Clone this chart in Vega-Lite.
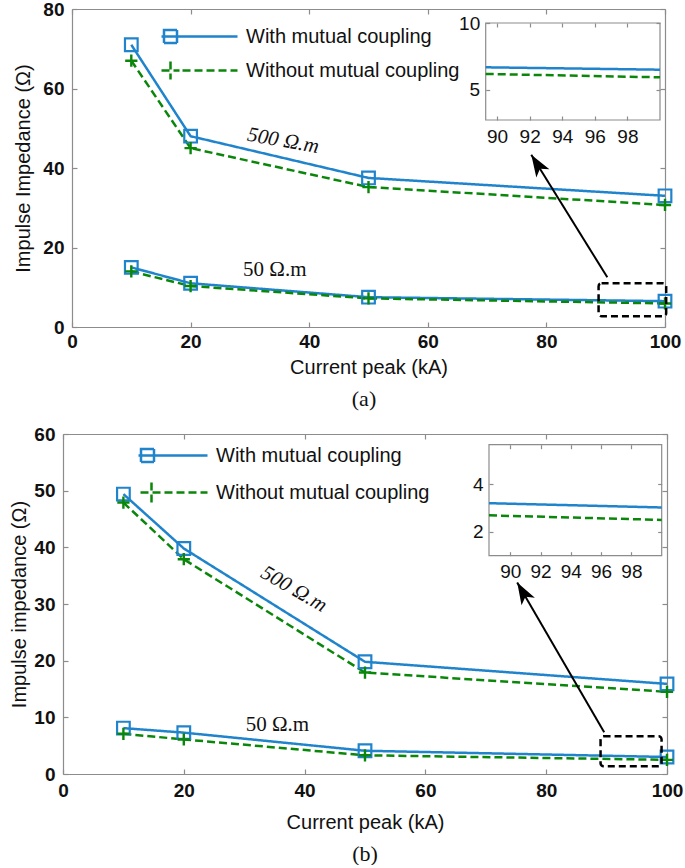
{
  "$schema": "https://vega.github.io/schema/vega-lite/v6.json",
  "background": "white",
  "padding": {"left": 9, "top": 0, "right": 0, "bottom": 0},
  "spacing": 15,
  "config": {
    "view": {"stroke": null},
    "axis": {
      "labelFont": "Liberation Sans", "titleFont": "Liberation Sans",
      "labelFontSize": 19, "titleFontSize": 20, "titleFontWeight": "normal", "labelFontWeight": "bold",
      "labelColor": "#111", "titleColor": "#111",
      "domainColor": "#8c8c8c", "tickColor": "#8c8c8c", "domainWidth": 1.2, "tickWidth": 1.2,
      "grid": false, "labelFlush": false, "labelOverlap": false
    },
    "legend": {"padding": 0, "labelLimit": 400}
  },
  "resolve": {
    "scale": {"color": "independent", "strokeDash": "independent", "shape": "independent"},
    "legend": {"color": "independent"}
  },
  "datasets": {
    "mainA": [
      {"series": "With mutual coupling", "soil": "500", "kA": 10, "Z": 71},
      {"series": "With mutual coupling", "soil": "500", "kA": 20, "Z": 48},
      {"series": "With mutual coupling", "soil": "500", "kA": 50, "Z": 37.5},
      {"series": "With mutual coupling", "soil": "500", "kA": 100, "Z": 33},
      {"series": "Without mutual coupling", "soil": "500", "kA": 10, "Z": 67},
      {"series": "Without mutual coupling", "soil": "500", "kA": 20, "Z": 45},
      {"series": "Without mutual coupling", "soil": "500", "kA": 50, "Z": 35.2},
      {"series": "Without mutual coupling", "soil": "500", "kA": 100, "Z": 30.7},
      {"series": "With mutual coupling", "soil": "50", "kA": 10, "Z": 15},
      {"series": "With mutual coupling", "soil": "50", "kA": 20, "Z": 11},
      {"series": "With mutual coupling", "soil": "50", "kA": 50, "Z": 7.5},
      {"series": "With mutual coupling", "soil": "50", "kA": 100, "Z": 6.5},
      {"series": "Without mutual coupling", "soil": "50", "kA": 10, "Z": 14},
      {"series": "Without mutual coupling", "soil": "50", "kA": 20, "Z": 10.3},
      {"series": "Without mutual coupling", "soil": "50", "kA": 50, "Z": 7.2},
      {"series": "Without mutual coupling", "soil": "50", "kA": 100, "Z": 5.93}
    ],
    "insetA": [
      {"series": "With mutual coupling", "kA": 89.3, "Z": 6.68},
      {"series": "With mutual coupling", "kA": 100, "Z": 6.5},
      {"series": "Without mutual coupling", "kA": 89.3, "Z": 6.18},
      {"series": "Without mutual coupling", "kA": 100, "Z": 5.93}
    ],
    "mainB": [
      {"series": "With mutual coupling", "soil": "500", "kA": 10, "Z": 49.4},
      {"series": "With mutual coupling", "soil": "500", "kA": 20, "Z": 39.8},
      {"series": "With mutual coupling", "soil": "500", "kA": 50, "Z": 19.8},
      {"series": "With mutual coupling", "soil": "500", "kA": 100, "Z": 15.9},
      {"series": "Without mutual coupling", "soil": "500", "kA": 10, "Z": 47.9},
      {"series": "Without mutual coupling", "soil": "500", "kA": 20, "Z": 37.9},
      {"series": "Without mutual coupling", "soil": "500", "kA": 50, "Z": 17.9},
      {"series": "Without mutual coupling", "soil": "500", "kA": 100, "Z": 14.5},
      {"series": "With mutual coupling", "soil": "50", "kA": 10, "Z": 8.1},
      {"series": "With mutual coupling", "soil": "50", "kA": 20, "Z": 7.3},
      {"series": "With mutual coupling", "soil": "50", "kA": 50, "Z": 4.1},
      {"series": "With mutual coupling", "soil": "50", "kA": 100, "Z": 3.0},
      {"series": "Without mutual coupling", "soil": "50", "kA": 10, "Z": 7.1},
      {"series": "Without mutual coupling", "soil": "50", "kA": 20, "Z": 6.1},
      {"series": "Without mutual coupling", "soil": "50", "kA": 50, "Z": 3.3},
      {"series": "Without mutual coupling", "soil": "50", "kA": 100, "Z": 2.5}
    ],
    "insetB": [
      {"series": "With mutual coupling", "kA": 88.6, "Z": 3.2},
      {"series": "With mutual coupling", "kA": 100, "Z": 3.02},
      {"series": "Without mutual coupling", "kA": 88.6, "Z": 2.69},
      {"series": "Without mutual coupling", "kA": 100, "Z": 2.5}
    ]
  },
  "vconcat": [
    {
      "width": 602, "height": 318,
      "title": {"text": "(a)", "orient": "bottom", "font": "Liberation Serif", "fontSize": 22, "fontWeight": "normal", "color": "#111", "offset": 12},
      "resolve": {"scale": {"x": "independent", "y": "independent"}},
      "layer": [
        {
          "data": {"name": "mainA"},
          "mark": {"type": "line", "strokeWidth": 2.5},
          "encoding": {
            "x": {"field": "kA", "type": "quantitative", "scale": {"domain": [0, 100], "range": [9, 602], "nice": false, "zero": false},
                  "axis": {"orient": "bottom", "values": [0, 20, 40, 60, 80, 100], "title": "Current peak (kA)", "tickSize": -5, "labelPadding": 10, "titlePadding": 6}},
            "y": {"field": "Z", "type": "quantitative", "scale": {"domain": [0, 80], "nice": false, "zero": false},
                  "axis": {"orient": "left", "offset": -9, "values": [0, 20, 40, 60, 80], "title": "Impulse Impedance (Ω)", "tickSize": -5, "labelPadding": 13, "titlePadding": 9}},
            "detail": {"field": "soil"},
            "color": {"field": "series", "type": "nominal",
                      "scale": {"domain": ["With mutual coupling", "Without mutual coupling"], "range": ["#1f84cc", "#0a870a"]},
                      "legend": {"orient": "none", "legendX": 153, "legendY": 16, "title": null, "direction": "vertical",
                                 "symbolSize": 400, "symbolStrokeWidth": 2.5, "labelFont": "Liberation Sans", "labelFontSize": 20,
                                 "labelColor": "#111", "labelOffset": 7, "rowPadding": 8,
                                 "encode": {"symbols": {"update": {
                                   "shape": {"signal": "datum.value === 'With mutual coupling' ? 'M-6.6,0H1M-6.35,-0.65H-5.05V0.65H-6.35Z' : 'M-6.6,0H-4.8M-5.7,-0.9V0.9M-4.5,0H-3.7M-3.3,0H-2.5M-2.1,0H-1.3M-0.9,0H-0.1M0.3,0H1'"},
                                   "fill": {"value": "transparent"},
                                   "strokeWidth": {"value": 2.5},
                                   "strokeDash": {"value": [1, 0]},
                                   "opacity": {"value": 1}}}}}},
            "strokeDash": {"field": "series", "type": "nominal",
                           "scale": {"domain": ["With mutual coupling", "Without mutual coupling"], "range": [[1, 0], [8, 4]]}, "legend": null}
          }
        },
        {
          "data": {"name": "mainA"},
          "transform": [{"filter": "datum.series === 'With mutual coupling'"}],
          "mark": {"type": "point", "shape": "square", "filled": false, "strokeWidth": 2.2, "size": 160, "opacity": 1},
          "encoding": {
            "x": {"field": "kA", "type": "quantitative", "scale": {"domain": [0, 100], "range": [9, 602], "nice": false, "zero": false},
                  "axis": {"orient": "top", "labels": false, "title": null, "tickSize": -5, "values": [0, 20, 40, 60, 80, 100]}},
            "y": {"field": "Z", "type": "quantitative", "scale": {"domain": [0, 80], "nice": false, "zero": false},
                  "axis": {"orient": "right", "labels": false, "title": null, "tickSize": -5, "values": [0, 20, 40, 60, 80]}},
            "color": {"field": "series", "type": "nominal"}
          }
        },
        {
          "data": {"name": "mainA"},
          "transform": [{"filter": "datum.series === 'Without mutual coupling'"}],
          "mark": {"type": "point", "shape": "M-1,0H1M0,-1V1", "filled": false, "strokeWidth": 2.4, "size": 150, "opacity": 1},
          "encoding": {
            "x": {"field": "kA", "type": "quantitative", "scale": {"domain": [0, 100], "range": [9, 602], "nice": false, "zero": false}, "axis": null},
            "y": {"field": "Z", "type": "quantitative", "scale": {"domain": [0, 80], "nice": false, "zero": false}, "axis": null},
            "color": {"field": "series", "type": "nominal"}
          }
        },
        {
          "data": {"values": [{}]},
          "mark": {"type": "text", "text": "500 Ω.m", "font": "Liberation Serif", "fontStyle": "italic", "fontSize": 21, "angle": 10, "color": "#111"},
          "encoding": {
            "x": {"datum": 35.6, "type": "quantitative", "scale": {"domain": [0, 100], "range": [9, 602], "nice": false, "zero": false}, "axis": null},
            "y": {"datum": 46.8, "type": "quantitative", "scale": {"domain": [0, 80], "nice": false, "zero": false}, "axis": null}
          }
        },
        {
          "data": {"values": [{}]},
          "mark": {"type": "text", "text": "50 Ω.m", "font": "Liberation Serif", "fontSize": 21, "color": "#111"},
          "encoding": {
            "x": {"datum": 34.2, "type": "quantitative", "scale": {"domain": [0, 100], "range": [9, 602], "nice": false, "zero": false}, "axis": null},
            "y": {"datum": 14.3, "type": "quantitative", "scale": {"domain": [0, 80], "nice": false, "zero": false}, "axis": null}
          }
        },
        {
          "data": {"values": [{}]},
          "mark": {"type": "rect", "fill": "transparent", "stroke": "black", "strokeWidth": 2.5, "strokeDash": [7, 4], "cornerRadius": 3},
          "encoding": {
            "x": {"datum": 88.8, "type": "quantitative", "scale": {"domain": [0, 100], "range": [9, 602], "nice": false, "zero": false}, "axis": null},
            "x2": {"datum": 100.2},
            "y": {"datum": 11, "type": "quantitative", "scale": {"domain": [0, 80], "nice": false, "zero": false}, "axis": null},
            "y2": {"datum": 2.7}
          }
        },
        {
          "data": {"values": [{}]},
          "mark": {"type": "rule", "color": "black", "strokeWidth": 2},
          "encoding": {
            "x": {"datum": 90.27, "type": "quantitative", "scale": {"domain": [0, 100], "range": [9, 602], "nice": false, "zero": false}, "axis": null},
            "y": {"datum": 12.5, "type": "quantitative", "scale": {"domain": [0, 80], "nice": false, "zero": false}, "axis": null},
            "x2": {"datum": 77.45}, "y2": {"datum": 43.35}
          }
        },
        {
          "data": {"values": [{}]},
          "mark": {"type": "point", "shape": "M0,0L-0.7,2L0,1.5L0.7,2Z", "filled": true, "size": 484, "angle": 328.2, "color": "black", "opacity": 1},
          "encoding": {
            "x": {"datum": 77.45, "type": "quantitative", "scale": {"domain": [0, 100], "range": [9, 602], "nice": false, "zero": false}, "axis": null},
            "y": {"datum": 43.35, "type": "quantitative", "scale": {"domain": [0, 80], "nice": false, "zero": false}, "axis": null}
          }
        },
        {
          "data": {"values": [{}]},
          "mark": {"type": "rect", "fill": "white", "stroke": "#8c8c8c", "strokeWidth": 1.2},
          "encoding": {
            "x": {"datum": 89.3, "type": "quantitative", "scale": {"domain": [89.3, 100], "range": [422.7, 597], "nice": false, "zero": false},
                  "axis": {"orient": "top", "offset": -14, "values": [90, 92, 94, 96, 98], "labels": false, "title": null, "domain": false, "tickSize": -4, "zindex": 1}},
            "x2": {"datum": 100},
            "y": {"datum": 2.73, "type": "quantitative", "scale": {"domain": [2.73, 10], "range": [111, 14], "nice": false, "zero": false},
                  "axis": {"orient": "right", "offset": -5, "values": [5, 10], "labels": false, "title": null, "domain": false, "tickSize": -4, "zindex": 1}},
            "y2": {"datum": 10}
          }
        },
        {
          "data": {"name": "insetA"},
          "mark": {"type": "line", "strokeWidth": 2.5},
          "encoding": {
            "x": {"field": "kA", "type": "quantitative", "scale": {"domain": [89.3, 100], "range": [422.7, 597], "nice": false, "zero": false},
                  "axis": {"orient": "bottom", "offset": -207, "values": [90, 92, 94, 96, 98], "title": null, "domain": false, "tickSize": -4, "labelPadding": 11, "labelFontWeight": "normal", "zindex": 1}},
            "y": {"field": "Z", "type": "quantitative", "scale": {"domain": [2.73, 10], "range": [111, 14], "nice": false, "zero": false},
                  "axis": {"orient": "left", "offset": -422.7, "values": [5, 10], "title": null, "domain": false, "tickSize": -4, "labelPadding": 10, "labelFontWeight": "normal", "zindex": 1}},
            "color": {"field": "series", "type": "nominal", "legend": null},
            "strokeDash": {"field": "series", "type": "nominal", "legend": null}
          }
        }
      ]
    },
    {
      "width": 604, "height": 340,
      "title": {"text": "(b)", "orient": "bottom", "font": "Liberation Serif", "fontSize": 22, "fontWeight": "normal", "color": "#111", "offset": 12},
      "resolve": {"scale": {"x": "independent", "y": "independent"}},
      "layer": [
        {
          "data": {"name": "mainB"},
          "mark": {"type": "line", "strokeWidth": 2.5},
          "encoding": {
            "x": {"field": "kA", "type": "quantitative", "scale": {"domain": [0, 100], "nice": false, "zero": false},
                  "axis": {"orient": "bottom", "values": [0, 20, 40, 60, 80, 100], "title": "Current peak (kA)", "tickSize": -5, "labelPadding": 12, "titlePadding": 12}},
            "y": {"field": "Z", "type": "quantitative", "scale": {"domain": [0, 60], "nice": false, "zero": false},
                  "axis": {"orient": "left", "values": [0, 10, 20, 30, 40, 50, 60], "title": "Impulse impedance (Ω)", "tickSize": -5, "labelPadding": 13, "titlePadding": 4}},
            "detail": {"field": "soil"},
            "color": {"field": "series", "type": "nominal",
                      "scale": {"domain": ["With mutual coupling", "Without mutual coupling"], "range": ["#1f84cc", "#0a870a"]},
                      "legend": {"orient": "none", "legendX": 123, "legendY": 10, "title": null, "direction": "vertical",
                                 "symbolSize": 400, "symbolStrokeWidth": 2.5, "labelFont": "Liberation Sans", "labelFontSize": 20,
                                 "labelColor": "#111", "labelOffset": 7, "rowPadding": 10,
                                 "encode": {"symbols": {"update": {
                                   "shape": {"signal": "datum.value === 'With mutual coupling' ? 'M-5.9,0H1M-5.65,-0.65H-4.35V0.65H-5.65Z' : 'M-5.7,0H-3.5M-4.6,-1V1M-3.3,0H-2.5M-2.1,0H-1.3M-0.9,0H-0.1M0.3,0H1'"},
                                   "fill": {"value": "transparent"},
                                   "strokeWidth": {"value": 2.5},
                                   "strokeDash": {"value": [1, 0]},
                                   "opacity": {"value": 1}}}}}},
            "strokeDash": {"field": "series", "type": "nominal",
                           "scale": {"domain": ["With mutual coupling", "Without mutual coupling"], "range": [[1, 0], [8, 4]]}, "legend": null}
          }
        },
        {
          "data": {"name": "mainB"},
          "transform": [{"filter": "datum.series === 'With mutual coupling'"}],
          "mark": {"type": "point", "shape": "square", "filled": false, "strokeWidth": 2.2, "size": 160, "opacity": 1},
          "encoding": {
            "x": {"field": "kA", "type": "quantitative", "scale": {"domain": [0, 100], "nice": false, "zero": false},
                  "axis": {"orient": "top", "labels": false, "title": null, "tickSize": -5, "values": [0, 20, 40, 60, 80, 100]}},
            "y": {"field": "Z", "type": "quantitative", "scale": {"domain": [0, 60], "nice": false, "zero": false},
                  "axis": {"orient": "right", "labels": false, "title": null, "tickSize": -5, "values": [0, 10, 20, 30, 40, 50, 60]}},
            "color": {"field": "series", "type": "nominal"}
          }
        },
        {
          "data": {"name": "mainB"},
          "transform": [{"filter": "datum.series === 'Without mutual coupling'"}],
          "mark": {"type": "point", "shape": "M-1,0H1M0,-1V1", "filled": false, "strokeWidth": 2.4, "size": 150, "opacity": 1},
          "encoding": {
            "x": {"field": "kA", "type": "quantitative", "scale": {"domain": [0, 100], "nice": false, "zero": false}, "axis": null},
            "y": {"field": "Z", "type": "quantitative", "scale": {"domain": [0, 60], "nice": false, "zero": false}, "axis": null},
            "color": {"field": "series", "type": "nominal"}
          }
        },
        {
          "data": {"values": [{}]},
          "mark": {"type": "text", "text": "500 Ω.m", "font": "Liberation Serif", "fontStyle": "italic", "fontSize": 21, "angle": 30, "color": "#111"},
          "encoding": {
            "x": {"datum": 38.2, "type": "quantitative", "scale": {"domain": [0, 100], "nice": false, "zero": false}, "axis": null},
            "y": {"datum": 32.6, "type": "quantitative", "scale": {"domain": [0, 60], "nice": false, "zero": false}, "axis": null}
          }
        },
        {
          "data": {"values": [{}]},
          "mark": {"type": "text", "text": "50 Ω.m", "font": "Liberation Serif", "fontSize": 21, "color": "#111"},
          "encoding": {
            "x": {"datum": 35.5, "type": "quantitative", "scale": {"domain": [0, 100], "nice": false, "zero": false}, "axis": null},
            "y": {"datum": 8.6, "type": "quantitative", "scale": {"domain": [0, 60], "nice": false, "zero": false}, "axis": null}
          }
        },
        {
          "data": {"values": [{}]},
          "mark": {"type": "rect", "fill": "transparent", "stroke": "black", "strokeWidth": 2.5, "strokeDash": [7, 4], "cornerRadius": 3},
          "encoding": {
            "x": {"datum": 89, "type": "quantitative", "scale": {"domain": [0, 100], "nice": false, "zero": false}, "axis": null},
            "x2": {"datum": 99.1},
            "y": {"datum": 6.65, "type": "quantitative", "scale": {"domain": [0, 60], "nice": false, "zero": false}, "axis": null},
            "y2": {"datum": 1.35}
          }
        },
        {
          "data": {"values": [{}]},
          "mark": {"type": "rule", "color": "black", "strokeWidth": 2},
          "encoding": {
            "x": {"datum": 89.6, "type": "quantitative", "scale": {"domain": [0, 100], "nice": false, "zero": false}, "axis": null},
            "y": {"datum": 7.35, "type": "quantitative", "scale": {"domain": [0, 60], "nice": false, "zero": false}, "axis": null},
            "x2": {"datum": 75.2}, "y2": {"datum": 33.8}
          }
        },
        {
          "data": {"values": [{}]},
          "mark": {"type": "point", "shape": "M0,0L-0.7,2L0,1.5L0.7,2Z", "filled": true, "size": 484, "angle": 330, "color": "black", "opacity": 1},
          "encoding": {
            "x": {"datum": 75.2, "type": "quantitative", "scale": {"domain": [0, 100], "nice": false, "zero": false}, "axis": null},
            "y": {"datum": 33.8, "type": "quantitative", "scale": {"domain": [0, 60], "nice": false, "zero": false}, "axis": null}
          }
        },
        {
          "data": {"values": [{}]},
          "mark": {"type": "rect", "fill": "white", "stroke": "#8c8c8c", "strokeWidth": 1.2},
          "encoding": {
            "x": {"datum": 88.6, "type": "quantitative", "scale": {"domain": [88.6, 100], "range": [426, 598.7], "nice": false, "zero": false},
                  "axis": {"orient": "top", "offset": -10.7, "values": [90, 92, 94, 96, 98], "labels": false, "title": null, "domain": false, "tickSize": -4, "zindex": 1}},
            "x2": {"datum": 100},
            "y": {"datum": 1, "type": "quantitative", "scale": {"domain": [1, 5.65], "range": [121.7, 10.7], "nice": false, "zero": false},
                  "axis": {"orient": "right", "offset": -5.3, "values": [2, 4], "labels": false, "title": null, "domain": false, "tickSize": -4, "zindex": 1}},
            "y2": {"datum": 5.65}
          }
        },
        {
          "data": {"name": "insetB"},
          "mark": {"type": "line", "strokeWidth": 2.5},
          "encoding": {
            "x": {"field": "kA", "type": "quantitative", "scale": {"domain": [88.6, 100], "range": [426, 598.7], "nice": false, "zero": false},
                  "axis": {"orient": "bottom", "offset": -218.3, "values": [90, 92, 94, 96, 98], "title": null, "domain": false, "tickSize": -4, "labelPadding": 11, "labelFontWeight": "normal", "zindex": 1}},
            "y": {"field": "Z", "type": "quantitative", "scale": {"domain": [1, 5.65], "range": [121.7, 10.7], "nice": false, "zero": false},
                  "axis": {"orient": "left", "offset": -426, "values": [2, 4], "title": null, "domain": false, "tickSize": -4, "labelPadding": 10, "labelFontWeight": "normal", "zindex": 1}},
            "color": {"field": "series", "type": "nominal", "legend": null},
            "strokeDash": {"field": "series", "type": "nominal", "legend": null}
          }
        }
      ]
    }
  ]
}
